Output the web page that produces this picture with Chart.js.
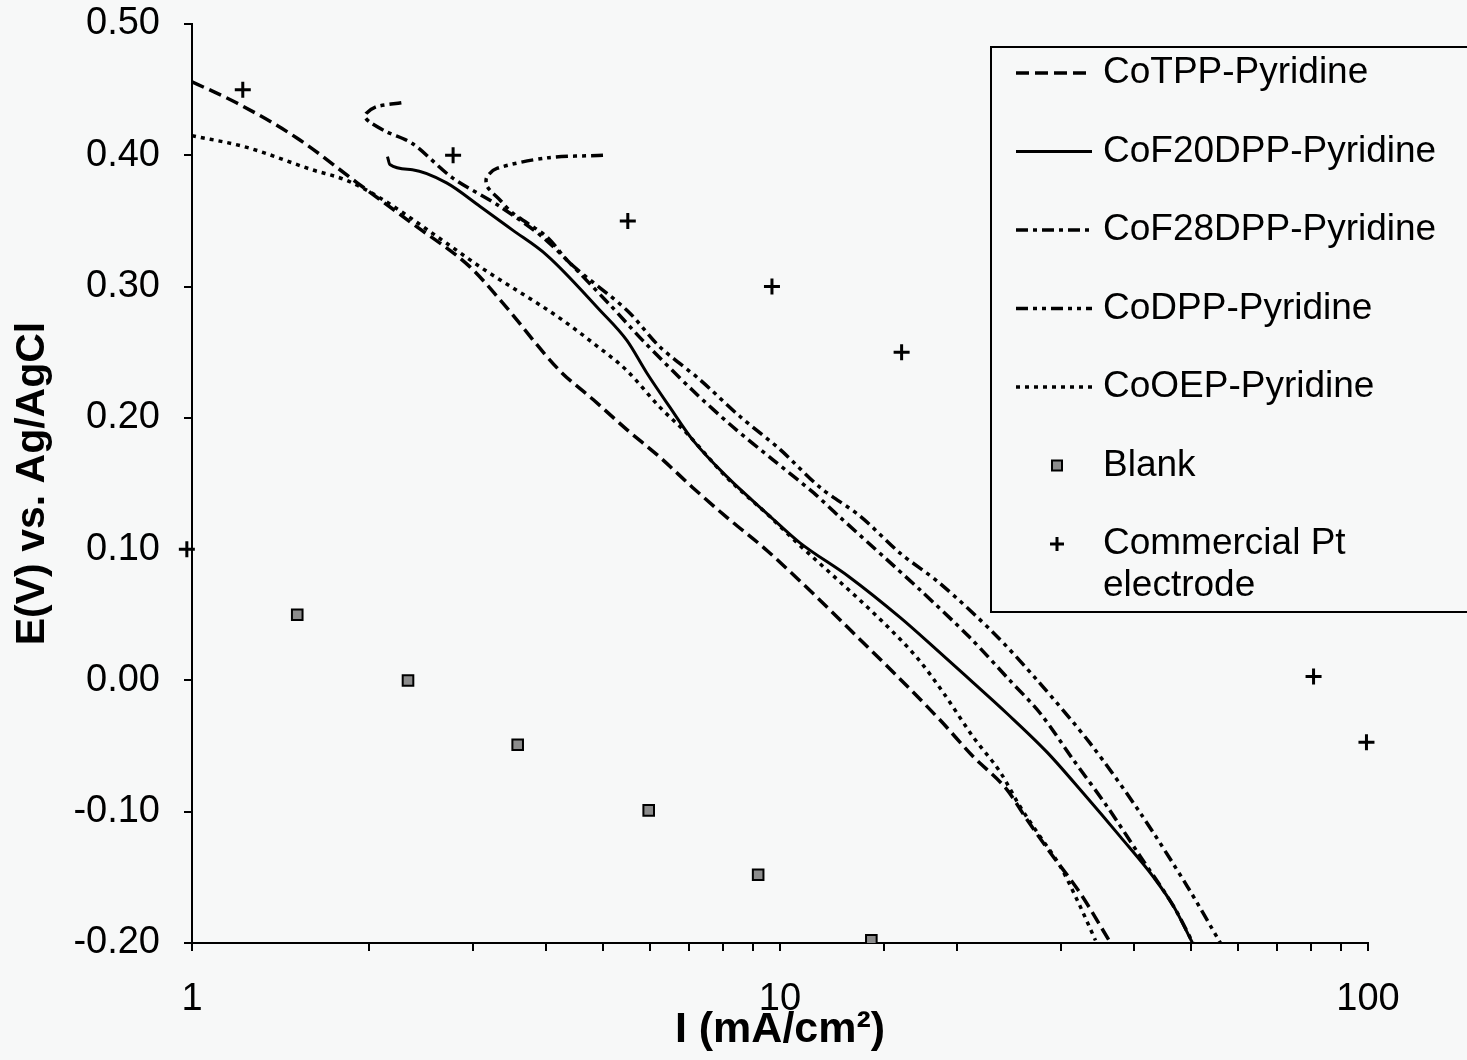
<!DOCTYPE html>
<html>
<head>
<meta charset="utf-8">
<script src="https://cdn.jsdelivr.net/npm/chart.js@4.4.1/dist/chart.umd.min.js"></script>
<style>
  html, body { margin: 0; padding: 0; background: #f7f8f8; }
  #wrap { width: 1467px; height: 1060px; }
</style>
</head>
<body>
<div id="wrap"><canvas id="chart" width="1467" height="1060"></canvas></div>
<script>
// Polarisation curves: current I (mA/cm2, log axis) vs. potential E (V vs. Ag/AgCl)

const cotppI = [1.00, 1.19, 1.51, 1.91, 2.37, 2.97, 3.34, 4.22, 4.81, 5.49, 6.25, 7.10, 8.13, 9.5, 13.2, 18.7, 21.3, 24.3, 26.3, 28.8, 32.4, 36.5];
const cotppE = [0.456, 0.440, 0.413, 0.379, 0.348, 0.315, 0.290, 0.236, 0.214, 0.191, 0.170, 0.147, 0.124, 0.099, 0.038, -0.030, -0.058, -0.083, -0.106, -0.131, -0.162, -0.200];

const cof20I = [2.15, 2.17, 2.37, 2.71, 3.09, 3.51, 4.01, 4.94, 5.49, 5.94, 6.50, 7.11, 8.13, 9.62, 10.8, 13.1, 16.0, 18.3, 21.1, 24.3, 28.5, 32.8, 37.9, 43.2, 46.7, 50.3];
const cof20E = [0.399, 0.393, 0.389, 0.379, 0.361, 0.343, 0.324, 0.282, 0.259, 0.234, 0.208, 0.183, 0.155, 0.125, 0.105, 0.079, 0.048, 0.025, 0.000, -0.025, -0.055, -0.086, -0.119, -0.150, -0.172, -0.200];

const cof28I = [2.27, 2.06, 1.98, 1.97, 2.01, 2.14, 2.37, 2.77, 3.34, 4.01, 5.14, 5.84, 7.10, 8.32, 9.73, 11.4, 12.6, 15.2, 17.3, 21.0, 24.6, 27.7, 31.6, 36.0, 41.0, 46.7, 50.4];
const cof28E = [0.440, 0.437, 0.432, 0.429, 0.425, 0.418, 0.409, 0.383, 0.361, 0.335, 0.286, 0.259, 0.221, 0.193, 0.168, 0.143, 0.125, 0.092, 0.069, 0.033, 0.000, -0.025, -0.061, -0.096, -0.134, -0.172, -0.200];

const codppI = [5.00, 4.01, 3.30, 3.17, 3.18, 3.34, 3.51, 4.01, 4.39, 5.49, 6.25, 7.31, 8.55, 10.0, 11.7, 13.7, 16.0, 18.7, 23.1, 27.4, 33.7, 41.0, 49.3, 56.1];
const codppE = [0.400, 0.398, 0.390, 0.383, 0.376, 0.366, 0.356, 0.338, 0.318, 0.282, 0.254, 0.229, 0.201, 0.176, 0.147, 0.125, 0.097, 0.074, 0.036, 0.000, -0.048, -0.101, -0.157, -0.200];

const cooepI = [1.00, 1.24, 1.60, 1.83, 2.08, 2.71, 3.09, 4.22, 4.81, 5.49, 6.25, 6.95, 8.1, 9.6, 10.8, 12.3, 15.0, 17.2, 19.0, 21.3, 23.7, 25.6, 27.7, 30.0, 32.0, 34.4];
const cooepE = [0.415, 0.406, 0.389, 0.381, 0.368, 0.333, 0.315, 0.276, 0.257, 0.236, 0.208, 0.188, 0.155, 0.125, 0.103, 0.080, 0.044, 0.016, -0.010, -0.043, -0.070, -0.096, -0.119, -0.142, -0.167, -0.198];

const blankI = [1.51, 2.33, 3.58, 5.98, 9.18, 14.3];
const blankE = [0.050, 0.000, -0.049, -0.099, -0.148, -0.198];

const ptI = [0.98, 1.22, 2.78, 5.51, 9.69, 16.1, 80.8, 99.4];
const ptE = [0.100, 0.450, 0.400, 0.350, 0.300, 0.250, 0.003, -0.047];

const seriesNames = ['CoTPP-Pyridine', 'CoF20DPP-Pyridine', 'CoF28DPP-Pyridine', 'CoDPP-Pyridine', 'CoOEP-Pyridine', 'Blank', 'Commercial Pt electrode'];
const legendLines = [['CoTPP-Pyridine'], ['CoF20DPP-Pyridine'], ['CoF28DPP-Pyridine'], ['CoDPP-Pyridine'], ['CoOEP-Pyridine'], ['Blank'], ['Commercial Pt', 'electrode']];
const xLabelTicks = [1, 10, 100];
const xTitle = 'I (mA/cm\u00B2)';
const yTitle = 'E(V) vs. Ag/AgCl';

const pts = (xs, ys) => xs.map((x, i) => ({ x, y: ys[i] }));

const FONT = 'Arial, "Liberation Sans", Helvetica, sans-serif';
const INK = '#000';
const BG = '#f7f8f8';

// curves that double back (the hooks) keep plain tension, the rest use monotone
function curve(label, xs, ys, dash, hook) {
  return {
    label,
    data: pts(xs, ys),
    showLine: true,
    borderColor: INK,
    borderWidth: dash.length ? 3.5 : 3,
    borderDash: dash,
    pointRadius: 0,
    tension: 0.3,
    cubicInterpolationMode: hook ? 'default' : 'monotone',
    fill: false
  };
}

// legend drawn inside the plot, opaque box like the original
const boxLegend = {
  id: 'boxLegend',
  afterDraw(chart) {
    const ctx = chart.ctx;
    const bx = 991, by = 47, bw = 500, bh = 565;
    ctx.save();
    ctx.fillStyle = BG;
    ctx.fillRect(bx, by, bw, bh);
    ctx.strokeStyle = INK;
    ctx.lineWidth = 2;
    ctx.strokeRect(bx, by, bw, bh);

    ctx.font = '37px ' + FONT;
    ctx.fillStyle = INK;
    ctx.textBaseline = 'middle';
    ctx.textAlign = 'left';

    chart.data.datasets.forEach((ds, i) => {
      const y = 73 + i * 78.5;
      if (ds.showLine) {
        ctx.beginPath();
        ctx.setLineDash(ds.borderDash || []);
        ctx.lineWidth = ds.borderWidth;
        ctx.moveTo(1016, y);
        ctx.lineTo(1092, y);
        ctx.stroke();
        ctx.setLineDash([]);
      } else if (ds.pointStyle === 'rect') {
        ctx.fillStyle = ds.backgroundColor;
        ctx.fillRect(1052, y - 5, 10, 10);
        ctx.lineWidth = 2;
        ctx.strokeRect(1052, y - 5, 10, 10);
        ctx.fillStyle = INK;
      } else {
        ctx.lineWidth = 3;
        ctx.beginPath();
        ctx.moveTo(1050, y); ctx.lineTo(1064, y);
        ctx.moveTo(1057, y - 7); ctx.lineTo(1057, y + 7);
        ctx.stroke();
      }
      legendLines[i].forEach((t, k) => ctx.fillText(t, 1103, y + k * 42));
    });
    ctx.restore();
  }
};

Chart.defaults.font.family = FONT;
Chart.defaults.color = INK;

new Chart(document.getElementById('chart'), {
  type: 'scatter',
  data: {
    datasets: [
      curve(seriesNames[0], cotppI, cotppE, [13, 6], false),
      curve(seriesNames[1], cof20I, cof20E, [], false),
      curve(seriesNames[2], cof28I, cof28E, [12, 5, 4, 5], true),
      curve(seriesNames[3], codppI, codppE, [12, 5, 4, 5, 4, 5], true),
      curve(seriesNames[4], cooepI, cooepE, [4, 5], false),
      {
        label: seriesNames[5],
        data: pts(blankI, blankE),
        pointStyle: 'rect',
        pointRadius: 7.5,
        backgroundColor: '#8c8c8c',
        borderColor: INK,
        borderWidth: 2
      },
      {
        label: seriesNames[6],
        data: pts(ptI, ptE),
        pointStyle: 'cross',
        pointRadius: 8,
        borderColor: INK,
        borderWidth: 3,
        clip: false
      }
    ]
  },
  options: {
    responsive: false,
    animation: false,
    devicePixelRatio: 1,
    layout: { padding: { top: 24, right: 99, left: 0, bottom: 0 } },
    plugins: { legend: { display: false }, tooltip: { enabled: false } },
    scales: {
      x: {
        type: 'logarithmic',
        min: 1,
        max: 100,
        afterFit: s => { s.height = 117; },
        border: { display: true, color: INK, width: 2 },
        grid: { drawOnChartArea: false, drawTicks: true, tickLength: 8, color: INK, lineWidth: 2 },
        ticks: {
          autoSkip: false,
          maxRotation: 0,
          padding: 26,
          font: { size: 38 },
          color: INK,
          callback: v => xLabelTicks.includes(v) ? String(v) : ''
        },
        title: { display: true, text: xTitle, font: { size: 43, weight: 'bold' }, color: INK, padding: { top: 0, bottom: 4 } }
      },
      y: {
        type: 'linear',
        min: -0.2,
        max: 0.5,
        afterFit: s => { s.width = 192; s.paddingTop = 0; s.paddingBottom = 0; },
        border: { display: true, color: INK, width: 2 },
        grid: { drawOnChartArea: false, drawTicks: true, tickLength: 8, color: INK, lineWidth: 2 },
        ticks: {
          stepSize: 0.1,
          padding: 24,
          font: { size: 38 },
          color: INK,
          callback: v => (Math.abs(v) < 1e-9 ? 0 : v).toFixed(2)
        },
        title: { display: true, text: yTitle, font: { size: 41, weight: 'bold' }, color: INK, padding: { top: 8, bottom: 0 } }
      }
    }
  },
  plugins: [boxLegend]
});
</script>
</body>
</html>
